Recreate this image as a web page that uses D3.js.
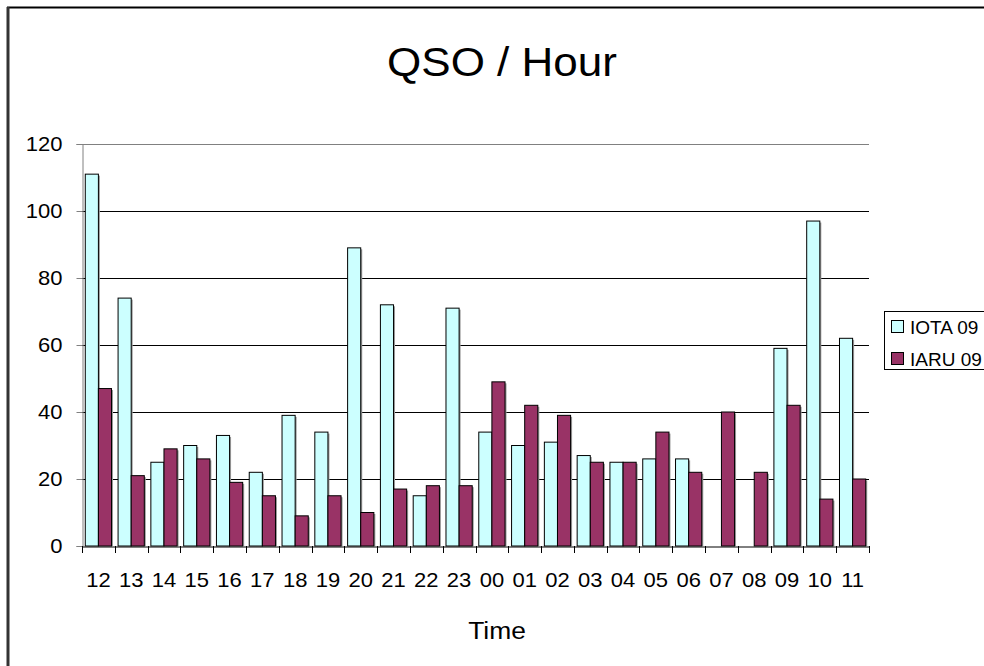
<!DOCTYPE html>
<html>
<head>
<meta charset="utf-8">
<script src="https://cdn.jsdelivr.net/npm/d3@7"></script>
<style>
  html, body { margin: 0; padding: 0; background: #fff; }
  svg { display: block; font-family: "Liberation Sans", Arial, sans-serif; }
</style>
</head>
<body>
<svg id="chart" width="984" height="666"></svg>
<script>
const hours = ["12","13","14","15","16","17","18","19","20","21","22","23","00","01","02","03","04","05","06","07","08","09","10","11"];
const iota09 = [111,74,25,30,33,22,39,34,89,72,15,71,34,30,31,27,25,26,26,0,0,59,97,62];
const iaru09 = [47,21,29,26,19,15,9,15,10,17,18,18,49,42,39,25,25,34,22,40,22,42,14,20];
const seriesNames = ["IOTA 09", "IARU 09"];
const seriesColors = ["#CCFFFF", "#993366"];
const yTicks = [0,20,40,60,80,100,120];
const titleText = "QSO / Hour";
const xTitle = "Time";

const SX = 1.1; // horizontal stretch of the reference's text
const svg = d3.select("#chart");
const plot = {left: 82, right: 869, top: 144, bottom: 546};

// chart area border
svg.append("rect").attr("x", 8).attr("y", 7.5).attr("width", 1100).attr("height", 800)
  .attr("fill", "#fff").attr("stroke", "#000").attr("stroke-width", 2);
svg.append("line").attr("x1", 8).attr("x2", 8).attr("y1", 7).attr("y2", 666)
  .attr("stroke", "#333").attr("stroke-width", 3);

const x = d3.scaleBand().domain(hours).range([plot.left, plot.right]).paddingInner(0).paddingOuter(0);
const inner = d3.scaleBand().domain(seriesNames).range([0, x.bandwidth()]).paddingInner(0).paddingOuter(0.25);
const y = d3.scaleLinear().domain([0, 120]).range([plot.bottom, plot.top]);

function stretch(sel) {
  sel.each(function() {
    const t = d3.select(this);
    const tx = +t.attr("x") || 0;
    const ty = +t.attr("y") || 0;
    t.attr("x", 0).attr("y", 0)
     .attr("transform", `translate(${tx},${ty}) scale(${SX},1)`);
  });
}

// gridlines
svg.append("g").selectAll("line").data(yTicks.filter(d => d > 0)).join("line")
  .attr("x1", plot.left).attr("x2", plot.right)
  .attr("y1", d => Math.round(y(d)) + 0.5).attr("y2", d => Math.round(y(d)) + 0.5)
  .attr("stroke", d => d === 120 ? "#808080" : "#000").attr("stroke-width", 1);

// y axis
const yAxis = svg.append("g").attr("transform", `translate(${plot.left + 0.5},0)`)
  .call(d3.axisLeft(y).tickValues(yTicks).tickSize(6).tickPadding(14).tickFormat(d3.format("d")));
yAxis.select(".domain").attr("stroke", "#808080");
yAxis.selectAll(".tick line").attr("stroke", "#808080");
yAxis.selectAll(".tick text").attr("font-size", 20).attr("fill", "#000")
  .attr("font-family", "Liberation Sans, Arial, sans-serif").call(stretch);

// bars
const data = hours.map((h, i) => ({h, vals: [iota09[i], iaru09[i]]}));
const groups = svg.append("g").selectAll("g").data(data).join("g")
  .attr("transform", d => `translate(${x(d.h)},0)`);
groups.selectAll("rect.shadow").data(d => d.vals.map((v, k) => ({v, k})).filter(e => e.v > 0)).join("rect")
  .attr("class", "shadow")
  .attr("x", d => inner(seriesNames[d.k]) + 1.5)
  .attr("y", d => y(d.v) + 1.5)
  .attr("width", inner.bandwidth())
  .attr("height", d => y(0) - y(d.v) - 1.5)
  .attr("fill", "#9a9a9a");
groups.selectAll("rect.bar").data(d => d.vals.map((v, k) => ({v, k})).filter(e => e.v > 0)).join("rect")
  .attr("class", "bar")
  .attr("x", d => inner(seriesNames[d.k]))
  .attr("y", d => y(d.v))
  .attr("width", inner.bandwidth())
  .attr("height", d => y(0) - y(d.v))
  .attr("fill", d => seriesColors[d.k])
  .attr("stroke", "#000").attr("stroke-width", 1);

// x axis
const xAxis = svg.append("g").attr("transform", `translate(0,${plot.bottom + 0.5})`)
  .call(d3.axisBottom(x).tickSize(0).tickPadding(26));
xAxis.select(".domain").attr("stroke", "#000");
xAxis.selectAll(".tick text").attr("font-size", 20).attr("fill", "#000")
  .attr("font-family", "Liberation Sans, Arial, sans-serif").call(stretch);
// category boundary ticks
svg.append("g").selectAll("line").data(d3.range(hours.length + 1)).join("line")
  .attr("x1", i => Math.round(plot.left + i * x.step()) + 0.5)
  .attr("x2", i => Math.round(plot.left + i * x.step()) + 0.5)
  .attr("y1", plot.bottom).attr("y2", plot.bottom + 7)
  .attr("stroke", "#000");

// titles
svg.append("text").attr("x", 502).attr("y", 76).attr("text-anchor", "middle")
  .attr("font-size", 40).attr("fill", "#000").text(titleText).call(stretch);
svg.append("text").attr("x", 497).attr("y", 639).attr("text-anchor", "middle")
  .attr("font-size", 24).attr("fill", "#000").text(xTitle).call(stretch);

// legend
const lg = svg.append("g");
lg.append("rect").attr("x", 884.5).attr("y", 311.5).attr("width", 120).attr("height", 58)
  .attr("fill", "#fff").attr("stroke", "#000");
seriesNames.forEach((n, k) => {
  const cy = 327 + k * 32;
  lg.append("rect").attr("x", 891.5).attr("y", cy - 6.5).attr("width", 12).attr("height", 12)
    .attr("fill", seriesColors[k]).attr("stroke", "#000");
  lg.append("text").attr("x", 910).attr("y", cy + 7).attr("font-size", 19)
    .attr("fill", "#000").text(n);
});
</script>
</body>
</html>
